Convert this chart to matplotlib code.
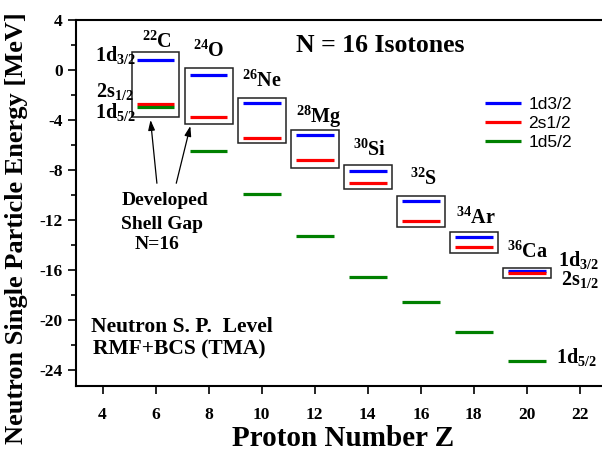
import matplotlib
matplotlib.use("Agg")
import matplotlib.pyplot as plt
from matplotlib.patches import Rectangle
from matplotlib.ticker import MultipleLocator

plt.rcParams['font.family'] = ['Liberation Serif', 'DejaVu Serif']
plt.rcParams['font.weight'] = 'bold'
plt.rcParams['axes.unicode_minus'] = False
plt.rcParams['mathtext.fontset'] = 'custom'
plt.rcParams['mathtext.rm'] = 'Liberation Serif:bold'
plt.rcParams['mathtext.it'] = 'Liberation Serif:bold'
plt.rcParams['mathtext.bf'] = 'Liberation Serif:bold'
plt.rcParams['mathtext.default'] = 'rm'

# ---- data ----
Z = [6, 8, 10, 12, 14, 16, 18, 20]
mass = [22, 24, 26, 28, 30, 32, 34, 36]
elements = ['C', 'O', 'Ne', 'Mg', 'Si', 'S', 'Ar', 'Ca']
d32 = [0.77, -0.40, -2.64, -5.20, -8.08, -10.45, -13.39, -16.11]
s12 = [-2.75, -3.73, -5.41, -7.23, -9.01, -12.05, -14.19, -16.27]
d52 = [-2.99, -6.50, -9.92, -13.28, -16.56, -18.56, -20.99, -23.25]
box_top = [1.42, 0.18, -2.26, -4.78, -7.58, -10.06, -12.98, -15.82]
box_bottom = [-3.74, -4.30, -5.86, -7.86, -9.50, -12.56, -14.64, -16.62]
series_names = ['1d3/2', '2s1/2', '1d5/2']
x_ticks = [4, 6, 8, 10, 12, 14, 16, 18, 20, 22]
y_ticks = [4, 0, -4, -8, -12, -16, -20, -24]

# label anchor positions (left, baseline) for isotope names
label_xy = [(5.49, 1.76), (7.41, 1.02), (9.26, -1.38), (11.28, -4.26),
            (13.45, -6.88), (15.58, -9.2), (17.34, -12.27), (19.26, -15.06)]

W, H = 602, 458
fig = plt.figure(figsize=(W / 100, H / 100), dpi=100)
ax = fig.add_axes([76 / W, 1 - 386 / H, 1 - 76 / W, (386 - 20) / H])
ax.set_xlim(3, 22.83)
ax.set_ylim(-25.28, 4)

half = 0.71
colors = ['#0000ff', '#ff0000', '#008000']
for vals, c, name in zip([d32, s12, d52], colors, series_names):
    ax.hlines(vals, [z - half for z in Z], [z + half for z in Z],
              colors=c, lw=2.3, label=name, zorder=3)

bw = 0.9
for z, t, b in zip(Z, box_top, box_bottom):
    ax.add_patch(Rectangle((z - bw, b), 2 * bw, t - b, fill=False,
                           edgecolor='#222222', lw=1.1, zorder=2))

for (lx, ly), m, el in zip(label_xy, mass, elements):
    ax.text(lx, ly, r'$^{%d}$%s' % (m, el), fontsize=14.5, fontweight='bold',
            ha='left', va='baseline')

# level labels
lab_fs = 14.5
ax.text(3.70, 0.74, '1d$_{3/2}$', fontsize=lab_fs, ha='left', va='baseline')
ax.text(3.76, -2.13, '2s$_{1/2}$', fontsize=lab_fs, ha='left', va='baseline')
ax.text(3.70, -3.86, '1d$_{5/2}$', fontsize=lab_fs, ha='left', va='baseline')
ax.text(21.18, -15.66, '1d$_{3/2}$', fontsize=lab_fs, ha='left', va='baseline')
ax.text(21.27, -17.2, '2s$_{1/2}$', fontsize=lab_fs, ha='left', va='baseline')
ax.text(21.09, -23.47, '1d$_{5/2}$', fontsize=lab_fs, ha='left', va='baseline')

ax.text(11.31, 1.46, 'N = 16 Isotones', fontsize=18.5, ha='left', va='baseline')

ax.text(4.71, -10.8, 'Developed', fontsize=14, ha='left', va='baseline')
ax.text(4.71, -12.74, 'Shell Gap', fontsize=14, ha='left', va='baseline')
ax.text(5.21, -14.34, 'N=16', fontsize=14, ha='left', va='baseline')

ax.text(3.57, -20.94, 'Neutron S. P.  Level', fontsize=15.5, ha='left', va='baseline')
ax.text(3.63, -22.74, 'RMF+BCS (TMA)', fontsize=15.5, ha='left', va='baseline')

arrow = dict(arrowstyle='-|>,head_length=0.6,head_width=0.2', color='black', lw=0.9,
             shrinkA=0, shrinkB=0)
ax.annotate('', xy=(5.81, -4.0), xytext=(6.05, -9.06), arrowprops=arrow)
ax.annotate('', xy=(7.31, -4.48), xytext=(6.78, -9.06), arrowprops=arrow)

leg = ax.legend(loc='center left', bbox_to_anchor=(485 / W, 1 - 123.5 / H),
                bbox_transform=fig.transFigure, frameon=False,
                prop={'family': 'Liberation Sans', 'weight': 'normal', 'size': 12.5},
                handlelength=2.1, handletextpad=0.4, labelspacing=0.2,
                borderpad=0, borderaxespad=0)

ax.set_xticks(x_ticks)
ax.set_yticks(y_ticks)
ax.yaxis.set_minor_locator(MultipleLocator(2))
ax.tick_params(axis='both', which='major', direction='out', length=6, width=1.2,
               labelsize=12.5)
ax.tick_params(axis='x', which='major', pad=9)
ax.tick_params(axis='y', which='minor', direction='out', length=3.5, width=1.2)
for lab in ax.get_xticklabels() + ax.get_yticklabels():
    lab.set_fontweight('bold')
for s in ['left', 'bottom', 'top']:
    ax.spines[s].set_linewidth(1.5)
ax.spines['right'].set_visible(False)

fig.text(343.5 / W, 1 - 446 / H, 'Proton Number Z', fontsize=21, fontweight='bold',
         ha='center', va='baseline')
fig.text(17 / W, 1 - 228 / H, 'Neutron Single Particle Energy [MeV]', fontsize=19,
         fontweight='bold', rotation=90, ha='center', va='center')

fig.savefig('out.png', dpi=100)
